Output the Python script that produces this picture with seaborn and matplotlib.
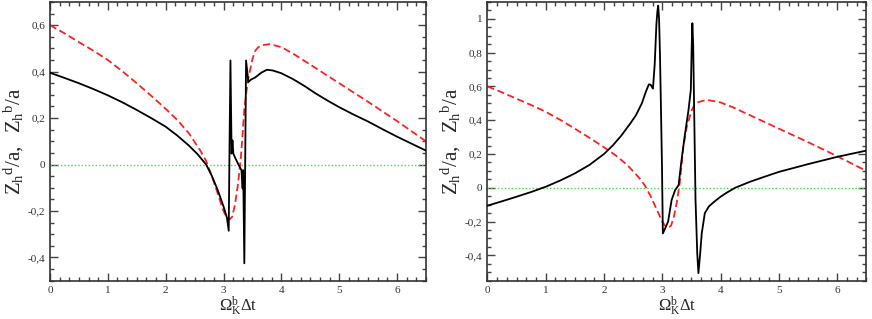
import matplotlib
matplotlib.use('Agg')
import matplotlib.pyplot as plt
import numpy as np
import seaborn as sns
from matplotlib.ticker import MultipleLocator, FuncFormatter

# red dashed curve (same in both panels)
red_x = [0, 0.25, 0.5, 0.75, 1.0, 1.25, 1.5, 1.75, 2.0, 2.2, 2.4, 2.6, 2.7, 2.8, 2.9, 3.0,
         3.05, 3.1, 3.15, 3.2, 3.25, 3.3, 3.33, 3.36, 3.42, 3.5, 3.55, 3.6, 3.7, 3.8, 3.9,
         4.0, 4.2, 4.5, 4.75, 5.0, 5.5, 6.0, 6.5]
red_y = [0.6, 0.565, 0.527, 0.49, 0.45, 0.402, 0.35, 0.296, 0.24, 0.192, 0.135, 0.06, 0.015,
         -0.05, -0.125, -0.2, -0.225, -0.237, -0.225, -0.17, -0.085, 0.03, 0.13, 0.24, 0.36,
         0.455, 0.49, 0.505, 0.515, 0.518, 0.512, 0.505, 0.478, 0.43, 0.39, 0.35, 0.27,
         0.187, 0.10]

# black curve, left panel
left_x = [0, 0.25, 0.5, 0.75, 1.0, 1.25, 1.5, 1.75, 2.0, 2.2, 2.4, 2.55, 2.7, 2.8, 2.9,
          3.0, 3.06, 3.09, 3.105, 3.12, 3.14, 3.155, 3.17, 3.2, 3.25, 3.31, 3.33, 3.34,
          3.36, 3.39, 3.43, 3.47, 3.55, 3.65, 3.75, 3.85, 4.0, 4.2, 4.4, 4.6, 4.8, 5.0,
          5.25, 5.5, 5.75, 6.0, 6.25, 6.5]
left_y = [0.395, 0.373, 0.35, 0.325, 0.298, 0.268, 0.235, 0.2, 0.163, 0.125, 0.082, 0.045,
          0.0, -0.05, -0.11, -0.18, -0.23, -0.285, 0.1, 0.448, 0.047, 0.104, 0.047, 0.03,
          0.004, -0.024, -0.103, -0.024, -0.425, 0.448, 0.355, 0.365, 0.375, 0.395, 0.408,
          0.405, 0.393, 0.368, 0.338, 0.305, 0.275, 0.247, 0.215, 0.185, 0.152, 0.12,
          0.09, 0.06]

# black curve, right panel
right_x = [0, 0.25, 0.5, 0.75, 1.0, 1.25, 1.5, 1.75, 2.0, 2.15, 2.3, 2.45, 2.55, 2.65,
           2.72, 2.77, 2.8, 2.84, 2.87, 2.9, 2.915, 2.93, 2.945, 2.96, 2.975, 2.995, 3.01,
           3.05, 3.1, 3.16, 3.22, 3.28, 3.33, 3.39, 3.45, 3.49, 3.505, 3.516, 3.53, 3.553,
           3.57, 3.6, 3.62, 3.65, 3.677, 3.73, 3.8, 3.9, 4.0, 4.1, 4.25, 4.5, 4.75, 5.0,
           5.5, 6.0, 6.5]
right_y = [-0.106, -0.08, -0.053, -0.025, 0.006, 0.043, 0.085, 0.135, 0.2, 0.25, 0.31, 0.38,
           0.43, 0.5, 0.57, 0.612, 0.61, 0.587, 0.73, 0.97, 1.04, 1.078, 1.0, 0.8, 0.52,
           0.13, -0.27, -0.24, -0.2, -0.073, -0.014, 0.016, 0.163, 0.32, 0.46, 0.58, 0.84,
           0.974, 0.85, 0.32, -0.07, -0.39, -0.505, -0.39, -0.27, -0.15, -0.11, -0.08,
           -0.053, -0.03, 0.0, 0.035, 0.065, 0.094, 0.14, 0.183, 0.22]

sns.set_style('ticks')
plt.rcParams['font.family'] = ['Liberation Serif', 'DejaVu Serif']
plt.rcParams['mathtext.fontset'] = 'custom'
plt.rcParams['mathtext.rm'] = 'Liberation Serif'
plt.rcParams['mathtext.it'] = 'Liberation Serif:italic'


def comma_fmt(v, pos):
    s = f'{v:.1f}'.rstrip('0').rstrip('.')
    if s in ('-0', ''):
        s = '0'
    return s.replace('.', ',')


fig = plt.figure(figsize=(8.72, 3.19), dpi=100)
ax1 = fig.add_axes([0.0573, 0.12, 0.4312, 0.874])
ax2 = fig.add_axes([0.5589, 0.12, 0.4346, 0.874])

panels = [(ax1, left_x, left_y, (-0.5, 0.7)), (ax2, right_x, right_y, (-0.55, 1.1))]
for ax, bx, by, ylim in panels:
    ax.axhline(0, color='#44dd44', lw=1.0, linestyle=(0, (1, 1.5)), zorder=1)
    sns.lineplot(x=red_x, y=red_y, ax=ax, color='#ff2020', lw=1.3,
                 linestyle=(0, (4, 2)), zorder=2)
    sns.lineplot(x=bx, y=by, ax=ax, color='black', lw=1.3, sort=False, zorder=3)
    ax.set_xlim(0, 6.5)
    ax.set_ylim(*ylim)
    ax.xaxis.set_major_locator(MultipleLocator(1))
    ax.xaxis.set_minor_locator(MultipleLocator(1 / 6))
    ax.yaxis.set_major_locator(MultipleLocator(0.2))
    ax.yaxis.set_minor_locator(MultipleLocator(0.05))
    ax.yaxis.set_major_formatter(FuncFormatter(comma_fmt))
    ax.tick_params(which='both', direction='in', top=True, right=True,
                   colors='#444444', labelcolor='#333333', labelsize=8, width=1)
    ax.tick_params(which='major', length=6)
    ax.tick_params(which='minor', length=3)
    for sp in ax.spines.values():
        sp.set_color('#333333')
        sp.set_linewidth(1.2)
    ax.set_xlabel(r'$\Omega_{\rm K}^{\rm b}\Delta{\rm t}$', fontsize=12, labelpad=0)
    ax.set_ylabel(r'$\rm Z_h{}^d/a,\ \ Z_h{}^b/a$', fontsize=15, labelpad=1)

fig.savefig('out.png', dpi=100)
